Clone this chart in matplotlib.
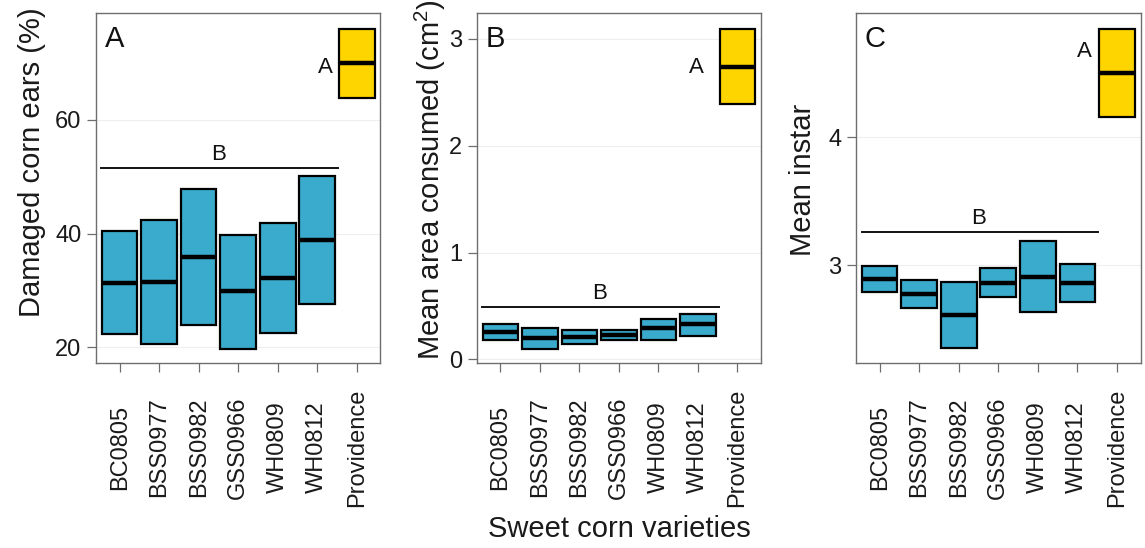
import matplotlib
matplotlib.use("Agg")
import matplotlib.pyplot as plt
import numpy as np

plt.rcParams['font.family'] = ['Liberation Sans', 'DejaVu Sans']
plt.rcParams['mathtext.fontset'] = 'custom'
plt.rcParams['mathtext.rm'] = 'Liberation Sans'
plt.rcParams['mathtext.it'] = 'Liberation Sans'

varieties = ['BC0805', 'BSS0977', 'BSS0982', 'GSS0966', 'WH0809', 'WH0812', 'Providence']

# crossbar low / mean / high per variety
damaged_low = [22.3, 20.5, 23.9, 19.7, 22.5, 27.6, 63.8]
damaged_mid = [31.3, 31.4, 35.9, 29.8, 32.2, 38.9, 70.0]
damaged_high = [40.4, 42.3, 47.8, 39.7, 41.8, 50.1, 76.0]

area_low = [0.18, 0.10, 0.14, 0.18, 0.18, 0.22, 2.39]
area_mid = [0.26, 0.20, 0.21, 0.23, 0.29, 0.33, 2.74]
area_high = [0.33, 0.29, 0.27, 0.27, 0.38, 0.42, 3.09]

instar_low = [2.79, 2.66, 2.35, 2.75, 2.63, 2.71, 4.16]
instar_mid = [2.89, 2.77, 2.61, 2.86, 2.91, 2.86, 4.50]
instar_high = [2.99, 2.88, 2.87, 2.98, 3.19, 3.01, 4.85]

# significance groups: y of the group line / its letter, and the Providence letter
sig_b = [51.5, 0.49, 3.26]
sig_b_text = [54.0, 0.62, 3.365]
sig_a = [69.3, 2.73, 4.67]
sig_a_x = [5.2, 4.95, 5.18]

panels = [
    ("A", "Damaged corn ears (%)", damaged_low, damaged_mid, damaged_high,
     (17.1, 78.85), [20, 40, 60]),
    ("B", "Mean area consumed (cm$^{2}$)", area_low, area_mid, area_high,
     (-0.039, 3.243), [0, 1, 2, 3]),
    ("C", "Mean instar", instar_low, instar_mid, instar_high,
     (2.229, 4.973), [3, 4]),
]

blue = '#3AABCC'
yellow = '#FFD500'
frame = '#6E6E6E'

fig = plt.figure(figsize=(11.45, 5.48), dpi=100)
lefts = [0.0838, 0.4163, 0.7476]
ylab_x = [-0.224, -0.162, -0.188]
ylab_y = [0.573, 0.524, 0.525]

x = np.arange(len(varieties))
for i, (letter, ylabel, lo, mid, hi, ylim, yt) in enumerate(panels):
    ax = fig.add_axes([lefts[i], 0.3367, 0.2485, 0.6396])
    lo = np.array(lo); mid = np.array(mid); hi = np.array(hi)
    colors = [blue] * 6 + [yellow]
    ax.bar(x, hi - lo, bottom=lo, width=0.9, color=colors,
           edgecolor='black', linewidth=1.6, zorder=3)
    ax.hlines(mid, x - 0.45, x + 0.45, color='black', linewidth=3.2, zorder=4)

    ax.set_xlim(-0.6, 6.6)
    ax.set_ylim(*ylim)
    ax.set_yticks(yt)
    ax.set_xticks(x)
    ax.set_xticklabels(varieties, rotation=90, va='center', ha='center')
    ax.yaxis.grid(True, color='#EEEEEE', linewidth=0.8, zorder=0)
    ax.set_axisbelow(True)
    for s in ax.spines.values():
        s.set_color(frame)
        s.set_linewidth(1.0)
    ax.tick_params(axis='both', direction='out', length=6.5, width=0.9,
                   color=frame, labelsize=17, labelcolor='#1A1A1A')
    ax.tick_params(axis='y', pad=4)
    ax.tick_params(axis='x', pad=54)

    ax.set_ylabel(ylabel, fontsize=21, va='center', color='#1A1A1A')
    ax.yaxis.set_label_coords(ylab_x[i], ylab_y[i])

    ax.text(0.03, 0.904, letter, transform=ax.transAxes, fontsize=21,
            ha='left', va='baseline', color='#111111')

    # group line for the six varieties
    ax.plot([-0.46, 5.52], [sig_b[i], sig_b[i]], color='#111111', linewidth=1.4)
    ax.text(2.5, sig_b_text[i], "B", fontsize=16, ha='center', va='center',
            color='#111111')
    ax.text(sig_a_x[i], sig_a[i], "A", fontsize=16, ha='center', va='center',
            color='#111111')

    if i == 1:
        ax.set_xlabel("Sweet corn varieties", fontsize=21, color='#1A1A1A',
                      labelpad=6)

fig.savefig("out.png", dpi=100)
